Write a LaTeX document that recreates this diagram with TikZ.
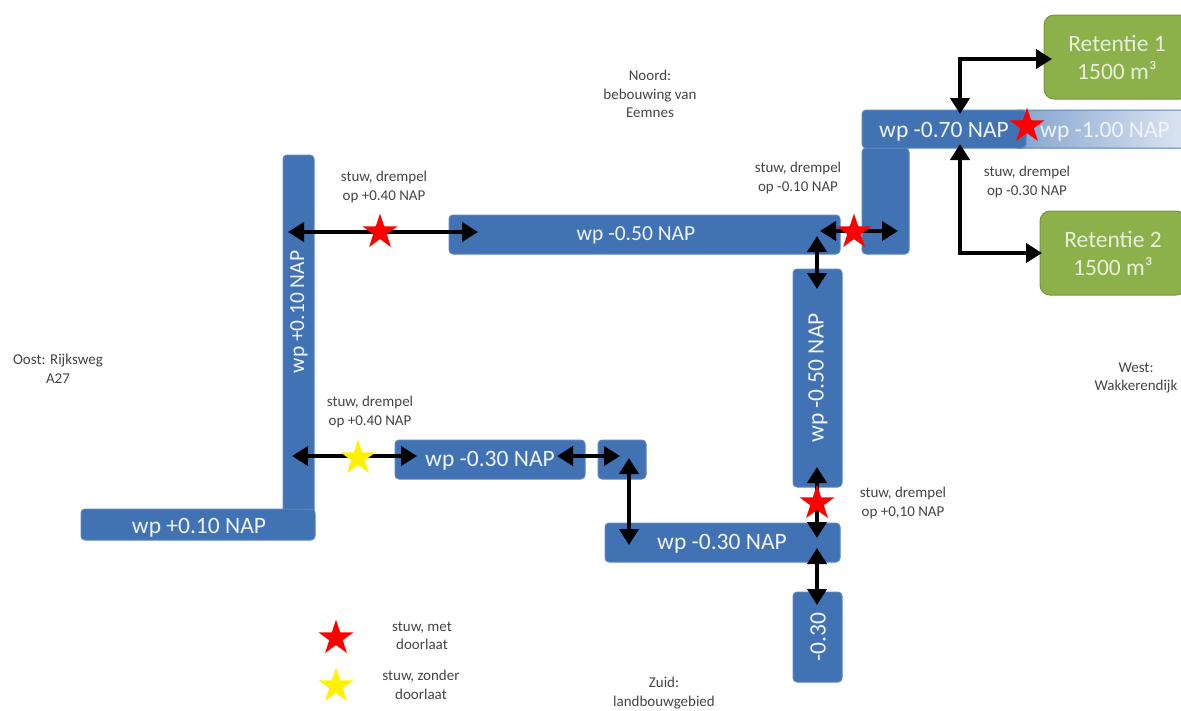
\documentclass[tikz,border=0pt]{standalone}
\usepackage{fontspec}
\setmainfont{Carlito}
\usetikzlibrary{arrows.meta,shapes.geometric}
\definecolor{waterblue}{HTML}{4172B4}
\definecolor{waterline}{HTML}{5A86BE}
\definecolor{retgreen}{HTML}{8CB04A}
\definecolor{labelgray}{HTML}{444444}
\begin{document}
\begin{tikzpicture}[
                      x=1pt, y=-1pt,
                      waterbox/.style = {rectangle, rounded corners=4pt, draw=waterline, line width=1pt, fill=waterblue, inner sep=0pt},
                      retbox/.style = {rectangle, rounded corners=10pt, draw=retgreen!85!black, line width=1pt, fill=retgreen, text=white!80!retgreen, inner sep=0pt, align=center, font=\fontsize{23.5}{28}\selectfont},
                      boxtext/.style = {text=white!92!waterblue, inner sep=0pt, font=\fontsize{23.5}{26}\selectfont},
                      smallboxtext/.style = {boxtext, font=\fontsize{21.5}{24}\selectfont},
                      infolabel/.style = {align=center, text=labelgray, inner sep=0pt, font=\fontsize{15}{18.5}\selectfont},
                      weirstar/.style = {star, star points=5, star point ratio=2.6, inner sep=0pt, minimum size=37pt, draw=none},
                      flow/.style = {line width=4.6pt, black, {Triangle[length=16pt,width=19pt]}-{Triangle[length=16pt,width=19pt]}}
                  ]
                  \clip (0,0) rectangle (1181,710);
                  \node[waterbox, minimum width=31pt, minimum height=360pt] (oostv) at (298.5,335) {};
                  \node[waterbox, minimum width=234pt, minimum height=31pt] (oosth) at (198,524.5) {};
                  \node[waterbox, minimum width=391pt, minimum height=39pt] (noordh) at (644.5,234.5) {};
                  \node[waterbox, minimum width=49pt, minimum height=218pt] (middenv) at (817.5,378) {};
                  \node[waterbox, minimum width=190pt, minimum height=39pt] (zuidwest) at (490,459.5) {};
                  \node[waterbox, minimum width=48pt, minimum height=39pt] (zuidblok) at (622,459.5) {};
                  \node[waterbox, minimum width=235pt, minimum height=39pt] (zuidh) at (722.5,542.5) {};
                  \node[waterbox, minimum width=49pt, minimum height=90pt] (zuidv) at (817.5,637) {};
                  \node[waterbox, minimum width=47pt, minimum height=106pt] (westblok) at (885.5,201) {};
                  \node[waterbox, left color=waterblue!65!white, right color=waterblue!18!white, minimum width=172pt, minimum height=38pt] (westlaag) at (1100,129) {};
                  \node[waterbox, minimum width=164pt, minimum height=38pt] (westh) at (944,129) {};
                  \node[retbox, minimum width=146pt, minimum height=84pt] (ret1) at (1117,57) {Retentie 1\\1500 m³};
                  \node[retbox, minimum width=146pt, minimum height=84pt] (ret2) at (1113,253) {Retentie 2\\1500 m³};

                  \node[smallboxtext, rotate=90] (oostvtext) at (299,312) {wp +0.10 NAP};
                  \node[boxtext] (oosttext) at (199,528) {wp +0.10 NAP};
                  \node[smallboxtext] (noordtext) at (636,235) {wp -0.50 NAP};
                  \node[boxtext, rotate=90] (middentext) at (818,378) {wp -0.50 NAP};
                  \node[boxtext] (zuidwesttext) at (490,461) {wp -0.30 NAP};
                  \node[boxtext] (zuidtext) at (722,544) {wp -0.30 NAP};
                  \node[boxtext, rotate=90] (zuidvtext) at (818,637) {-0.30};
                  \node[boxtext] (westtext) at (944,132) {wp -0.70 NAP};
                  \node[boxtext] (laagtext) at (1105,132) {wp -1.00 NAP};

                  \coordinate (a1) at (288,232);
                  \coordinate (a2) at (478,232);
                  \coordinate (b1) at (820,231);
                  \coordinate (b2) at (898,231);
                  \coordinate (c1) at (817,236);
                  \coordinate (c2) at (817,289);
                  \coordinate (d1) at (960,114);
                  \coordinate (d2) at (960,59);
                  \coordinate (d3) at (1052,59);
                  \coordinate (e1) at (960,144);
                  \coordinate (e2) at (960,253);
                  \coordinate (e3) at (1042,253);
                  \coordinate (f1) at (292,456);
                  \coordinate (f2) at (417,456);
                  \coordinate (g1) at (557,456);
                  \coordinate (g2) at (620,456);
                  \coordinate (h1) at (629,458);
                  \coordinate (h2) at (629,545);
                  \coordinate (i1) at (817,467);
                  \coordinate (i2) at (817,538);
                  \coordinate (j1) at (817,548);
                  \coordinate (j2) at (817,605);

                  \draw[flow] (a1) -- (a2);
                  \draw[flow] (b1) -- (b2);
                  \draw[flow] (c1) -- (c2);
                  \draw[flow] (d1) -- (d2) -- (d3);
                  \draw[flow] (e1) -- (e2) -- (e3);
                  \draw[flow] (f1) -- (f2);
                  \draw[flow] (g1) -- (g2);
                  \draw[flow] (h1) -- (h2);
                  \draw[flow] (i1) -- (i2);
                  \draw[flow] (j1) -- (j2);

                  \node[weirstar, fill=red] (star1) at (380,232) {};
                  \node[weirstar, fill=red] (star2) at (854,232) {};
                  \node[weirstar, fill=red] (star3) at (1027,126) {};
                  \node[weirstar, fill=red] (star4) at (817,503) {};
                  \node[weirstar, fill=yellow] (star5) at (358,458) {};
                  \node[weirstar, fill=red] (legendred) at (336,638) {};
                  \node[weirstar, fill=yellow] (legendyellow) at (336,686) {};

                  \node[infolabel] (noord) at (650,94) {Noord:\\bebouwing van\\Eemnes};
                  \node[infolabel] (zuid) at (664,693) {Zuid:\\landbouwgebied};
                  \node[infolabel] (oost) at (58,369) {Oost: Rijksweg\\A27};
                  \node[infolabel] (west) at (1136,378) {West:\\Wakkerendijk};
                  \node[infolabel] (stuw1) at (384,187) {stuw, drempel\\op +0.40 NAP};
                  \node[infolabel] (stuw2) at (798,178) {stuw, drempel\\op -0.10 NAP};
                  \node[infolabel] (stuw3) at (1027,182) {stuw, drempel\\op -0.30 NAP};
                  \node[infolabel] (stuw4) at (370,412) {stuw, drempel\\op +0.40 NAP};
                  \node[infolabel] (stuw5) at (903,503) {stuw, drempel\\op +0,10 NAP};
                  \node[infolabel] (legend1) at (422,636) {stuw, met\\doorlaat};
                  \node[infolabel] (legend2) at (421,685) {stuw, zonder\\doorlaat};
              \end{tikzpicture}
\end{document}
